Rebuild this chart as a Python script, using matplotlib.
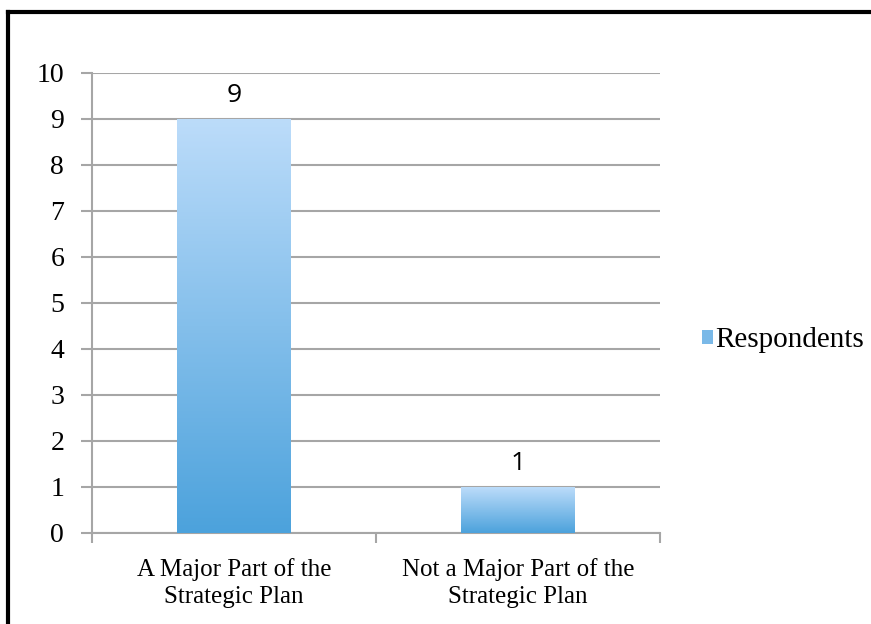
import numpy as np
import matplotlib
matplotlib.use('Agg')
import matplotlib.pyplot as plt
from matplotlib.colors import LinearSegmentedColormap
from matplotlib.patches import Rectangle
from matplotlib.lines import Line2D

categories = ['A Major Part of the\nStrategic Plan', 'Not a Major Part of the\nStrategic Plan']
respondents = [9, 1]
series_name = 'Respondents'

grid_col = '#a6a6a6'
bar_top = '#bcdcfa'
bar_bottom = '#4ca2dc'
grad = LinearSegmentedColormap.from_list('bluegrad', [bar_bottom, bar_top])

fig = plt.figure(figsize=(8.71, 6.24), dpi=100)
ax = fig.add_axes([92/871, 1-533/624, (660-92)/871, (533-73)/624])

x = np.arange(len(categories))
bars = ax.bar(x, respondents, width=0.4, color='none', edgecolor='none', zorder=3)

# vertical gradient fill clipped to each bar
g = np.linspace(0, 1, 256).reshape(-1, 1)
for b in bars:
    x0, w, h = b.get_x(), b.get_width(), b.get_height()
    im = ax.imshow(g, cmap=grad, origin='lower', aspect='auto',
                   extent=[x0, x0 + w, 0, h], zorder=3, interpolation='bilinear')
    im.set_clip_path(b)

for xi, v in zip(x, respondents):
    ax.text(xi, v + 0.25, str(v), ha='center', va='bottom', fontsize=19,
            family='Open Sans', color='black')

ax.set_xlim(-0.5, len(categories) - 0.5)
ax.set_ylim(0, 10)
ax.set_yticks(range(0, 11))
ax.yaxis.grid(True, color=grid_col, linewidth=1.5, zorder=0)
ax.set_axisbelow(True)

ax.set_xticks([-0.5, 0.5, 1.5], minor=False)
ax.set_xticklabels([])
ax.set_xticks(x, minor=True)
ax.set_xticklabels(categories, minor=True, fontsize=18, family='Liberation Serif',
                   linespacing=1.3)
ax.tick_params(axis='x', which='minor', length=0, pad=18)
ax.tick_params(axis='x', which='major', length=7, width=1.5, color=grid_col, direction='out')
ax.tick_params(axis='y', length=8, width=1.5, color=grid_col, direction='out', pad=12)
for lbl in ax.get_yticklabels():
    lbl.set_fontfamily('Liberation Serif')
    lbl.set_fontsize(20)

for s in ['top', 'right']:
    ax.spines[s].set_visible(False)
for s in ['left', 'bottom']:
    ax.spines[s].set_color(grid_col)
    ax.spines[s].set_linewidth(1.5)

handle = Rectangle((0, 0), 1, 1, facecolor='#7ab9e8', edgecolor='none')
fig.legend([handle], [series_name], loc='center left', bbox_to_anchor=(702/871, 1-340/624),
           frameon=False, borderaxespad=0, borderpad=0,
           handlelength=0.36, handleheight=0.36, handletextpad=0.1,
           prop={'family': 'Liberation Serif', 'size': 21})

# outer frame: left and top edges
fig.add_artist(Line2D([8/871, 8/871], [0, 1-12/624], color='black', linewidth=3,
                      transform=fig.transFigure))
fig.add_artist(Line2D([8/871, 1], [1-12/624, 1-12/624], color='black', linewidth=3,
                      transform=fig.transFigure))

fig.savefig('out.png', dpi=100)
